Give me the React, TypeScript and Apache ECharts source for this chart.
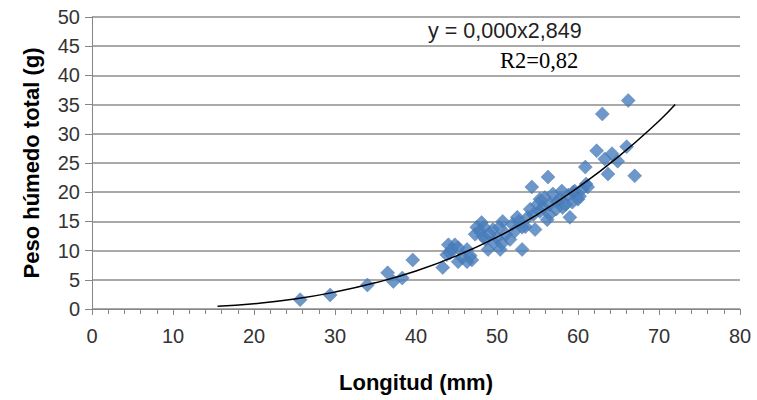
import React, { useEffect, useRef } from "react";
import * as echarts from "echarts";

// Observed data (Longitud mm, Peso húmedo total g)
const longitud: number[] = [
  25.7, 29.4, 34.0, 36.5, 37.2, 38.3, 39.6, 43.3, 43.8, 44.2, 44.8, 45.2, 46.3, 46.9,
  47.3, 48.1, 48.3, 48.9, 49.5, 50.4, 50.7, 51.6, 52.5, 53.1, 53.5, 54.3, 54.7, 55.3,
  56.3, 56.5, 57.4, 58.1, 59.0, 59.4, 60.2, 60.9, 61.2, 62.3, 63.0, 63.3, 63.7, 64.2,
  64.9, 66.0, 66.2, 67.0,
  44.0, 44.4, 45.2, 45.7, 46.3, 46.7, 47.5, 47.9, 48.4, 48.6, 49.1, 49.6, 50.0, 50.3,
  50.6, 51.1, 51.9, 52.2, 52.7, 53.1, 53.8, 54.1, 54.5, 55.0, 55.3, 55.7, 55.9, 56.2,
  56.5, 56.9, 57.3, 57.8, 58.0, 58.5, 58.8, 59.3, 59.6, 60.0, 60.5, 61.0
];
const peso: number[] = [
  1.6, 2.4, 4.1, 6.2, 4.7, 5.3, 8.4, 7.1, 9.3, 9.6, 11.0, 8.1, 10.2, 8.4,
  12.8, 14.8, 12.4, 10.2, 13.6, 10.2, 15.0, 11.9, 15.7, 10.2, 14.1, 20.9, 13.6, 18.8,
  22.6, 16.2, 18.4, 17.4, 15.7, 20.0, 19.3, 24.3, 20.9, 27.1, 33.4, 25.7, 23.1, 26.6,
  25.3, 27.8, 35.7, 22.8,
  11.0, 10.2, 10.5, 8.8, 8.1, 9.1, 14.0, 13.3, 14.0, 11.9, 12.8, 11.4, 12.2, 14.0,
  11.2, 12.8, 14.5, 13.3, 15.0, 14.0, 15.7, 17.1, 16.2, 17.9, 16.7, 17.4, 19.1, 15.3,
  17.9, 19.7, 17.1, 18.8, 20.2, 17.9, 19.5, 18.3, 20.2, 18.8, 20.5, 21.4
];

// Potential trend line (y = 0,000x^2,849)
const trendX: number[] = [15.5, 20, 25, 30, 35, 40, 45, 50, 55, 60, 65, 70, 72];
const trendY: number[] = [0.45, 0.9, 1.7, 2.9, 4.5, 6.5, 9.1, 12.3, 16.2, 20.8, 26.1, 32.2, 35.0];

const equationLabel = "y = 0,000x2,849";
const r2Label = "R2=0,82";
const xTitle = "Longitud (mm)";
const yTitle = "Peso húmedo total (g)";

const FONT = "'Liberation Sans', Arial, sans-serif";

export default function App() {
  const ref = useRef<HTMLDivElement>(null);
  useEffect(() => {
    if (!ref.current) return;
    const chart = echarts.init(ref.current, undefined, { renderer: "svg" });
    const points = longitud.map((x, i) => [x, peso[i]]);
    const trend = trendX.map((x, i) => [x, trendY[i]]);
    chart.setOption({
      animation: false,
      backgroundColor: "#ffffff",
      grid: { left: 92, right: 17, top: 17, bottom: 91, containLabel: false },
      xAxis: {
        type: "value",
        min: 0,
        max: 80,
        interval: 10,
        name: xTitle,
        nameLocation: "middle",
        nameGap: 62,
        nameTextStyle: { fontFamily: FONT, fontSize: 22, fontWeight: "bold", color: "#000" },
        axisLine: { show: true, lineStyle: { color: "#868686", width: 1 } },
        axisTick: { show: true, inside: false, length: 6, lineStyle: { color: "#868686" } },
        minorTick: { show: true, splitNumber: 5, length: 5, lineStyle: { color: "#868686" } },
        axisLabel: { fontFamily: FONT, fontSize: 20, color: "#333", margin: 17 },
        splitLine: { show: false },
      },
      yAxis: {
        type: "value",
        min: 0,
        max: 50,
        interval: 5,
        name: yTitle,
        nameLocation: "middle",
        nameGap: 50,
        nameTextStyle: { fontFamily: FONT, fontSize: 22, fontWeight: "bold", color: "#000" },
        axisLine: { show: true, lineStyle: { color: "#868686", width: 1 } },
        axisTick: { show: true, length: 7, lineStyle: { color: "#868686" } },
        axisLabel: { fontFamily: FONT, fontSize: 20, color: "#333", margin: 12 },
        splitLine: { show: true, lineStyle: { color: "#8c8c8c", width: 1.5 } },
      },
      series: [
        {
          type: "scatter",
          data: points,
          symbol: "diamond",
          symbolSize: 14,
          itemStyle: { color: "#4a7ebb", borderColor: "#3f71ad", borderWidth: 0.5 },
          z: 2,
        },
        {
          type: "line",
          data: trend,
          smooth: true,
          showSymbol: false,
          lineStyle: { color: "#000", width: 1.5 },
          z: 3,
        },
      ],
      graphic: [
        {
          type: "text",
          left: 428,
          top: 20,
          style: { text: equationLabel, fontFamily: FONT, fontSize: 21.5, fill: "#222" },
        },
        {
          type: "text",
          left: 500,
          top: 49,
          style: { text: r2Label, fontFamily: "'Liberation Serif', 'Times New Roman', serif", fontSize: 22.5, fill: "#000" },
        },
      ],
    });
    return () => chart.dispose();
  }, []);
  return (
    <div
      ref={ref}
      style={{ position: "fixed", left: 0, top: 0, width: 757, height: 400 }}
    />
  );
}
